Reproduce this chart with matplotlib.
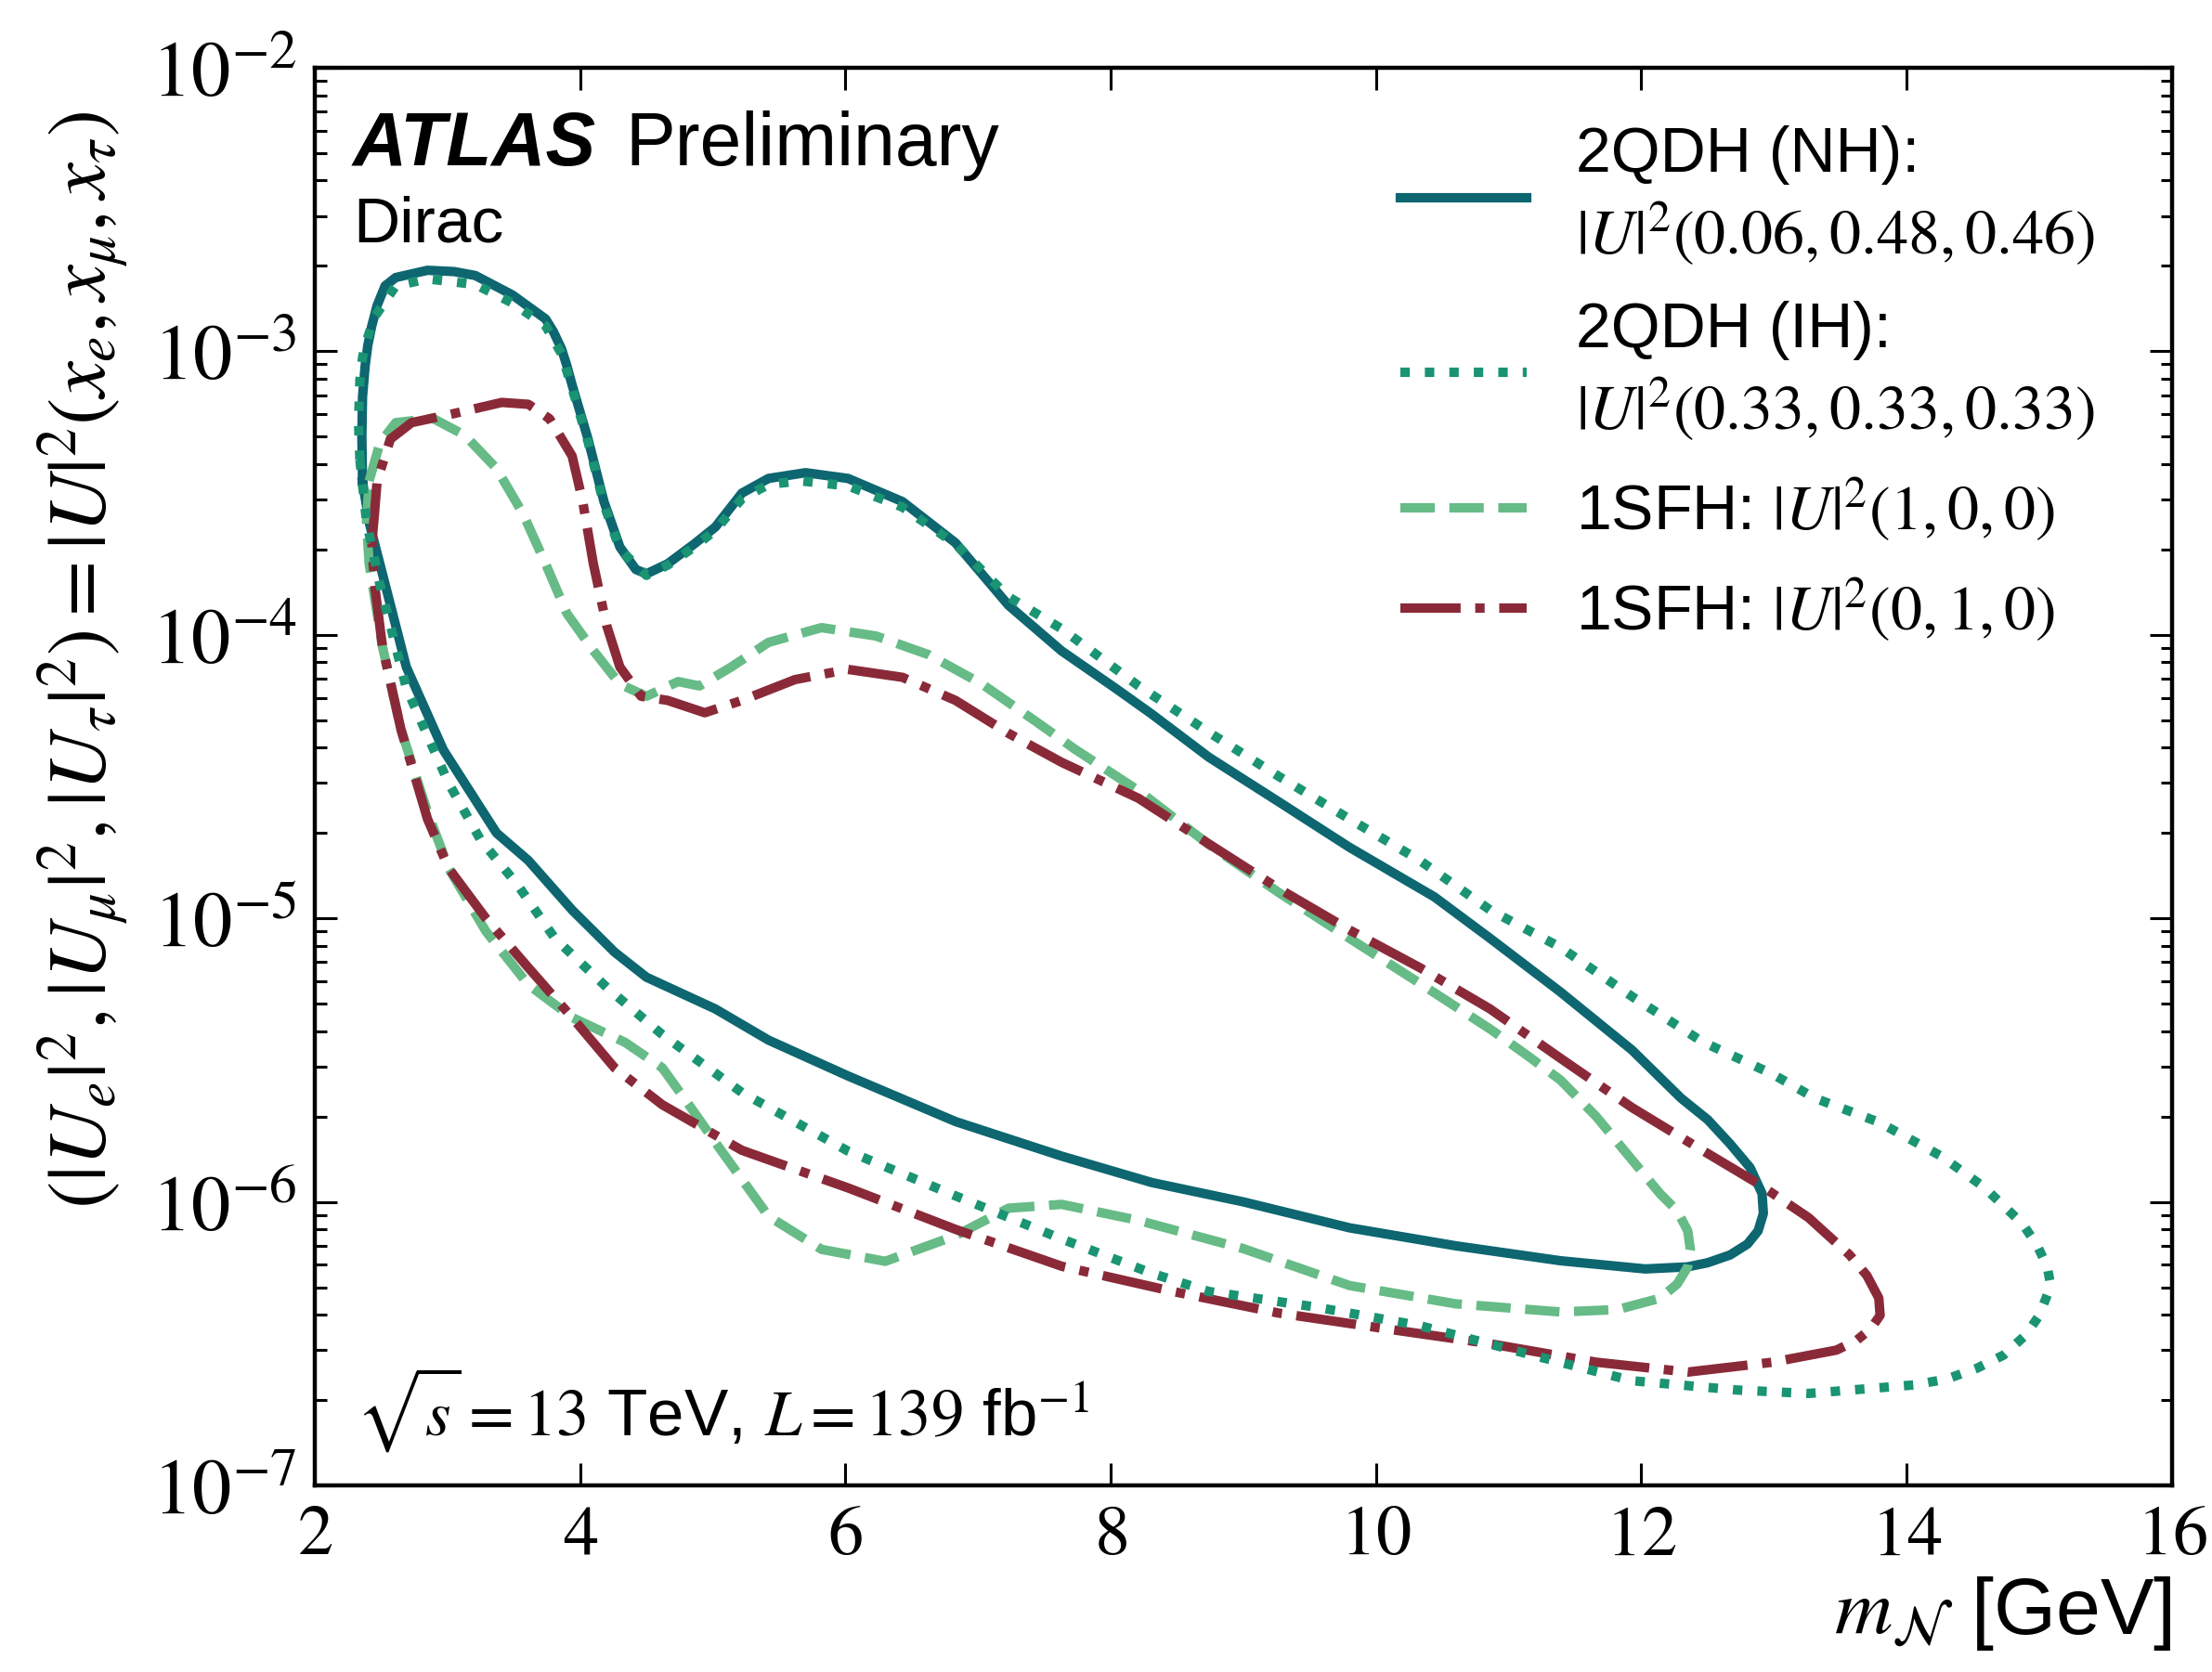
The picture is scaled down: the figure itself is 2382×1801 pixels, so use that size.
import numpy as np
import matplotlib
matplotlib.use("Agg")
import matplotlib.pyplot as plt
from matplotlib.ticker import FixedLocator, FuncFormatter, LogLocator, NullFormatter

plt.rcParams["font.family"] = ["Liberation Sans", "DejaVu Sans"]
plt.rcParams["mathtext.fontset"] = "stix"

# Exclusion contours (closed loops): heavy-neutrino mass [GeV] and mixing |U|^2
nh_mass = [2.36, 2.355, 2.36, 2.38, 2.40, 2.43, 2.47, 2.53, 2.61, 2.85, 3.05, 3.21,
           3.49, 3.74, 3.80, 3.86, 3.90, 3.94, 4.06, 4.18, 4.30, 4.42, 4.50, 4.66,
           4.86, 5.02, 5.22, 5.42, 5.70, 6.02, 6.43, 6.83, 7.23, 7.63, 8.04, 8.31,
           8.74, 9.27, 9.80, 10.44, 10.86, 11.39, 11.93, 12.30, 12.50, 12.67, 12.82,
           12.91, 12.92, 12.88, 12.80, 12.67, 12.50, 12.35, 12.03, 11.39, 10.60,
           9.80, 9.00, 8.31, 7.63, 6.83, 6.02, 5.42, 5.02, 4.50, 4.26, 3.94, 3.61,
           3.37, 2.97, 2.69, 2.53, 2.41, 2.36]
nh_u2 = [3.47e-4, 5.0e-4, 6.9e-4, 8.9e-4, 1.05e-3, 1.23e-3, 1.45e-3, 1.70e-3,
         1.82e-3, 1.93e-3, 1.91e-3, 1.85e-3, 1.58e-3, 1.30e-3, 1.17e-3, 1.02e-3,
         8.9e-4, 7.6e-4, 4.9e-4, 2.95e-4, 2.04e-4, 1.70e-4, 1.64e-4, 1.78e-4,
         2.09e-4, 2.40e-4, 3.16e-4, 3.56e-4, 3.73e-4, 3.56e-4, 2.95e-4, 2.11e-4,
         1.27e-4, 8.77e-5, 6.46e-5, 5.25e-5, 3.70e-5, 2.57e-5, 1.78e-5, 1.19e-5,
         8.5e-6, 5.5e-6, 3.43e-6, 2.32e-6, 1.95e-6, 1.60e-6, 1.32e-6, 1.07e-6,
         9.1e-7, 7.9e-7, 7.1e-7, 6.5e-7, 6.1e-7, 5.9e-7, 5.8e-7, 6.2e-7, 7.0e-7,
         8.1e-7, 1.0e-6, 1.17e-6, 1.45e-6, 1.92e-6, 2.78e-6, 3.72e-6, 4.79e-6,
         6.2e-6, 7.6e-6, 1.07e-5, 1.60e-5, 2.0e-5, 3.92e-5, 7.7e-5, 1.51e-4,
         2.49e-4, 3.47e-4]

ih_mass = [2.34, 2.33, 2.34, 2.36, 2.38, 2.45, 2.61, 2.85, 3.21, 3.49, 3.74, 3.86,
           3.94, 4.06, 4.18, 4.30, 4.50, 4.66, 4.86, 5.02, 5.22, 5.42, 5.66, 6.02,
           6.43, 6.83, 7.23, 7.63, 8.21, 8.74, 9.27, 9.80, 10.33, 10.86, 11.39,
           11.93, 12.46, 12.99, 13.31, 13.79, 14.26, 14.58, 14.87, 14.98, 15.06,
           15.08, 15.06, 15.00, 14.90, 14.73, 14.53, 14.30, 14.05, 13.26, 12.72,
           11.93, 11.13, 10.33, 9.54, 8.74, 8.31, 7.63, 6.83, 6.02, 5.22, 4.62,
           4.22, 3.81, 3.53, 3.25, 3.01, 2.69, 2.49, 2.39, 2.34]
ih_u2 = [4.14e-4, 5.6e-4, 7.9e-4, 9.5e-4, 1.05e-3, 1.32e-3, 1.70e-3, 1.80e-3,
         1.72e-3, 1.48e-3, 1.23e-3, 9.8e-4, 7.4e-4, 4.8e-4, 2.88e-4, 2.0e-4,
         1.62e-4, 1.76e-4, 2.04e-4, 2.34e-4, 3.02e-4, 3.39e-4, 3.49e-4, 3.35e-4,
         2.82e-4, 2.09e-4, 1.36e-4, 1.05e-4, 6.6e-5, 4.53e-5, 3.16e-5, 2.24e-5,
         1.60e-5, 1.07e-5, 7.9e-6, 5.3e-6, 3.67e-6, 2.82e-6, 2.32e-6, 1.91e-6,
         1.45e-6, 1.13e-6, 8.4e-7, 7.08e-7, 5.9e-7, 5.25e-7, 4.7e-7, 3.98e-7,
         3.40e-7, 2.88e-7, 2.59e-7, 2.37e-7, 2.26e-7, 2.11e-7, 2.17e-7, 2.34e-7,
         2.92e-7, 3.66e-7, 4.26e-7, 4.83e-7, 5.6e-7, 7.4e-7, 1.05e-6, 1.51e-6,
         2.43e-6, 3.89e-6, 5.6e-6, 8.5e-6, 1.31e-5, 1.89e-5, 2.99e-5, 6.5e-5,
         1.51e-4, 2.51e-4, 4.14e-4]

e_mass = [2.41, 2.49, 2.61, 2.89, 3.13, 3.37, 3.57, 3.74, 3.90, 4.10, 4.30, 4.50,
          4.74, 4.90, 5.14, 5.42, 5.82, 6.23, 6.63, 7.03, 7.43, 7.73, 8.21, 8.74,
          9.27, 9.80, 10.33, 10.86, 11.13, 11.39, 11.66, 11.87, 12.14, 12.27, 12.35,
          12.37, 12.35, 12.27, 12.14, 11.82, 11.39, 10.60, 9.80, 9.00, 8.21, 7.63,
          7.23, 6.83, 6.30, 5.82, 5.42, 5.02, 4.82, 4.62, 4.34, 3.94, 3.61, 3.29,
          3.01, 2.85, 2.65, 2.51, 2.41, 2.39, 2.41]
e_u2 = [3.49e-4, 4.73e-4, 5.6e-4, 5.8e-4, 5.06e-4, 3.86e-4, 2.67e-4, 1.78e-4,
        1.19e-4, 8.8e-5, 6.7e-5, 6.07e-5, 6.84e-5, 6.6e-5, 7.7e-5, 9.4e-5, 1.06e-4,
        9.9e-5, 8.5e-5, 6.7e-5, 4.97e-5, 3.95e-5, 2.82e-5, 1.82e-5, 1.23e-5, 8.5e-6,
        5.9e-6, 4.07e-6, 3.31e-6, 2.69e-6, 2.0e-6, 1.52e-6, 1.07e-6, 9.3e-7, 7.9e-7,
        6.76e-7, 5.9e-7, 5.13e-7, 4.57e-7, 4.17e-7, 4.09e-7, 4.37e-7, 5.07e-7,
        6.84e-7, 8.6e-7, 9.8e-7, 9.5e-7, 7.6e-7, 6.17e-7, 6.8e-7, 8.9e-7, 1.62e-6,
        2.20e-6, 2.97e-6, 3.65e-6, 4.47e-6, 5.83e-6, 9.0e-6, 1.50e-5, 2.37e-5,
        4.63e-5, 9.1e-5, 1.78e-4, 2.49e-4, 3.49e-4]

mu_mass = [2.43, 2.45, 2.47, 2.57, 2.73, 3.05, 3.41, 3.61, 3.77, 3.94, 4.02, 4.10,
           4.20, 4.30, 4.46, 4.66, 4.94, 5.22, 5.62, 6.02, 6.43, 6.83, 7.23, 7.63,
           8.21, 8.74, 9.27, 9.80, 10.33, 10.86, 11.39, 11.93, 12.46, 12.88, 13.26,
           13.57, 13.70, 13.79, 13.80, 13.73, 13.62, 13.47, 12.99, 12.35, 11.66,
           10.86, 10.07, 9.27, 8.47, 7.63, 6.83, 6.02, 5.22, 4.62, 4.26, 3.94, 3.61,
           3.29, 3.01, 2.85, 2.65, 2.51, 2.45, 2.43]
mu_u2 = [2.10e-4, 2.67e-4, 3.49e-4, 4.9e-4, 5.6e-4, 6.03e-4, 6.6e-4, 6.5e-4,
         5.78e-4, 4.27e-4, 2.95e-4, 1.78e-4, 1.08e-4, 7.7e-5, 6.07e-5, 5.87e-5,
         5.31e-5, 5.87e-5, 6.95e-5, 7.55e-5, 7.08e-5, 5.87e-5, 4.49e-5, 3.55e-5,
         2.65e-5, 1.83e-5, 1.27e-5, 9.1e-6, 6.7e-6, 4.79e-6, 3.21e-6, 2.15e-6,
         1.52e-6, 1.16e-6, 8.8e-7, 6.5e-7, 5.5e-7, 4.58e-7, 3.98e-7, 3.57e-7,
         3.24e-7, 3.0e-7, 2.72e-7, 2.51e-7, 2.72e-7, 3.16e-7, 3.57e-7, 4.05e-7,
         4.83e-7, 5.93e-7, 8.0e-7, 1.12e-6, 1.52e-6, 2.20e-6, 2.97e-6, 4.47e-6,
         6.7e-6, 1.0e-5, 1.50e-5, 2.24e-5, 4.63e-5, 9.1e-5, 1.51e-4, 2.10e-4]

labels = ["2QDH (NH):\n$|U|^2(0.06, 0.48, 0.46)$",
          "2QDH (IH):\n$|U|^2(0.33, 0.33, 0.33)$",
          "1SFH: $|U|^2(1, 0, 0)$",
          "1SFH: $|U|^2(0, 1, 0)$"]
x_ticks = [2, 4, 6, 8, 10, 12, 14, 16]
y_decades = [1e-7, 1e-6, 1e-5, 1e-4, 1e-3, 1e-2]

c_nh, c_ih, c_e, c_mu = "#0d6670", "#1a9473", "#66bb86", "#8a2a39"
lw = 7.3

fig = plt.figure(figsize=(23.82, 18.01), dpi=100)
ax = fig.add_axes([0.1423, 0.1116, 0.8396, 0.8479])

h_nh, = ax.plot(nh_mass, nh_u2, color=c_nh, lw=lw, solid_joinstyle="round", zorder=3)
h_e, = ax.plot(e_mass, e_u2, color=c_e, lw=lw, linestyle=(0, (3.65, 1.55)), zorder=4)
h_mu, = ax.plot(mu_mass, mu_u2, color=c_mu, lw=lw,
                linestyle=(0, (6.4, 1.55, 1.0, 1.55)), zorder=5)
h_ih, = ax.plot(ih_mass, ih_u2, color=c_ih, lw=lw, linestyle=(0, (1.0, 1.6)), zorder=6)

ax.set_yscale("log")
ax.set_xlim(2, 16)
ax.set_ylim(1e-7, 1e-2)

ax.xaxis.set_major_locator(FixedLocator(x_ticks))
ax.xaxis.set_major_formatter(FuncFormatter(lambda v, p: r"$%d$" % v))
ax.yaxis.set_major_locator(FixedLocator(y_decades))
ax.yaxis.set_major_formatter(FuncFormatter(lambda v, p: r"$10^{%d}$" % int(round(np.log10(v)))))
ax.yaxis.set_minor_locator(LogLocator(base=10, subs=np.arange(2, 10), numticks=20))
ax.yaxis.set_minor_formatter(NullFormatter())

ax.tick_params(which="both", direction="in", top=True, right=True, width=2.2)
ax.tick_params(which="major", length=17, pad=14)
ax.tick_params(axis="x", which="major", labelsize=55)
ax.tick_params(axis="y", which="major", labelsize=61)
ax.tick_params(which="minor", length=9)
for s in ax.spines.values():
    s.set_linewidth(3.2)

ax.set_xlabel(r"$m_{\mathcal{N}}$ [GeV]", fontsize=62, loc="right", labelpad=4)
ax.set_ylabel(r"$(|U_e|^2, |U_\mu|^2, |U_\tau|^2) = |U|^2(x_e, x_\mu, x_\tau)$",
              fontsize=63, loc="top")
ax.yaxis.set_label_coords(-0.099, 0.97)

ax.text(0.0205, 0.931, "ATLAS", transform=ax.transAxes, fontsize=58,
        fontweight="bold", fontstyle="italic", va="baseline")
ax.text(0.167, 0.931, "Preliminary", transform=ax.transAxes, fontsize=58, va="baseline")
ax.text(0.0205, 0.877, "Dirac", transform=ax.transAxes, fontsize=50, va="baseline")
ax.text(0.022, 0.035, r"$\sqrt{s} = 13$ TeV, $L = 139$ fb$^{-1}$",
        transform=ax.transAxes, fontsize=51, va="baseline")

leg = ax.legend([h_nh, h_ih, h_e, h_mu], labels, loc="upper left",
                bbox_to_anchor=(0.571, 0.977), frameon=False, fontsize=49,
                handlelength=2.0, handletextpad=0.78, labelspacing=0.52,
                borderaxespad=0.0)
for t in leg.get_texts():
    t.set_linespacing(1.28)

fig.savefig("out.png", dpi=100)
